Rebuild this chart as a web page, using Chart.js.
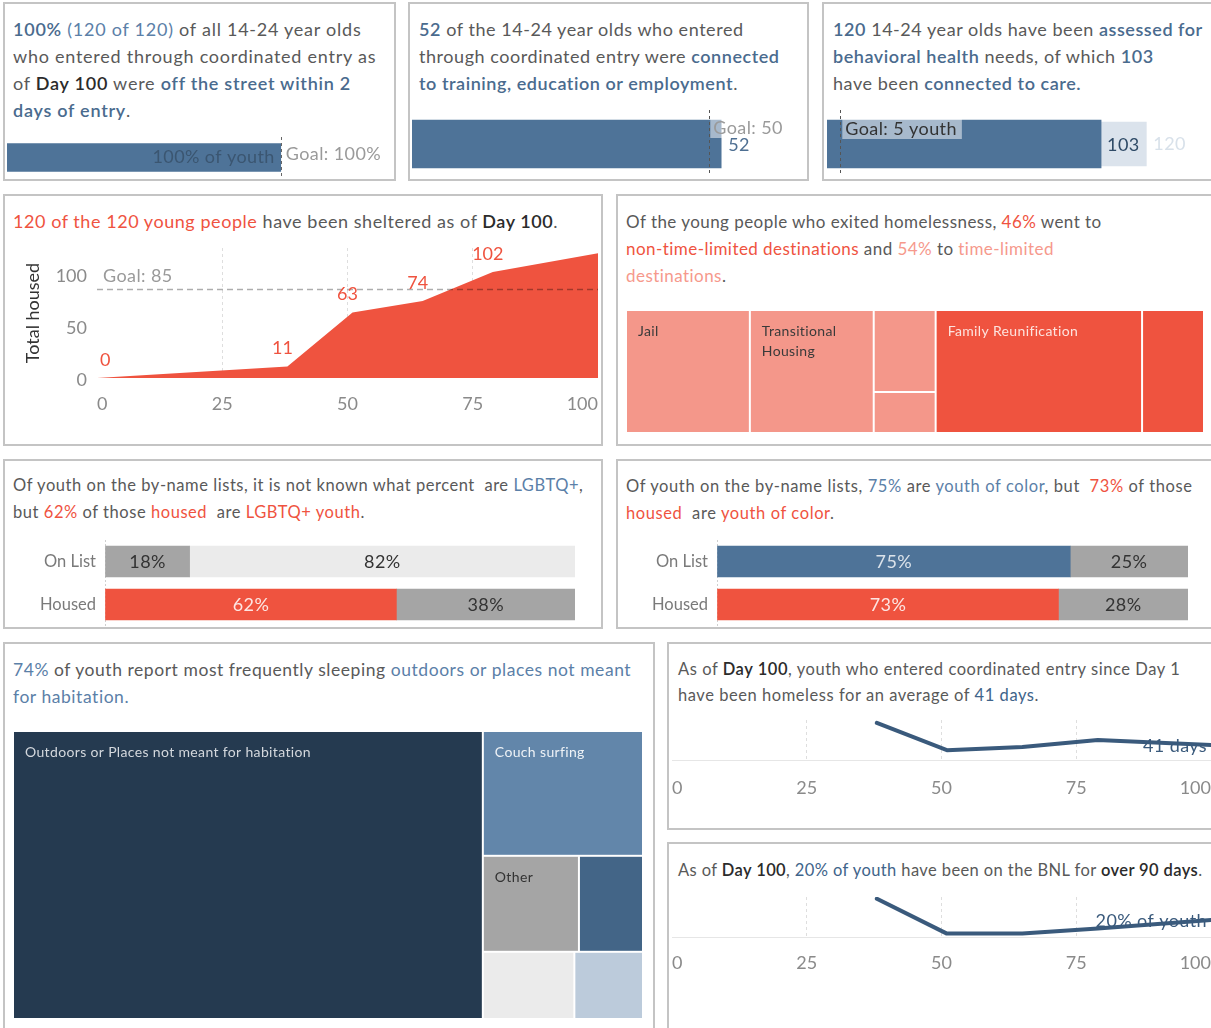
<!DOCTYPE html>
<html>
<head>
<meta charset="utf-8">
<title>Youth homelessness - Day 100</title>
<script src="https://cdn.jsdelivr.net/npm/chart.js@4.4.1/dist/chart.umd.min.js"></script>
<style>
  html, body { margin: 0; padding: 0; }
  body { width: 1211px; height: 1028px; overflow: hidden; position: relative; background: #fff;
         font-family: Lato, "Open Sans", sans-serif; color: #595959; }
  .panel { position: absolute; box-sizing: border-box; border: 2px solid #c4c4c4; }
  .txt { position: absolute; white-space: nowrap; font-size: 18px; line-height: 27px; letter-spacing: 0.55px; }
  canvas { position: absolute; }
  .bs { color: #4a6b8e; font-weight: 600; }
  .bl { color: #5b80a8; }
  .db { color: #40648a; }
  .k  { color: #2b2b2b; font-weight: 600; }
  .r  { color: #ef533f; }
  .lr { color: #f6998c; }
</style>
</head>
<body>

<div class="panel" style="left:3px;top:2px;width:393px;height:179px"></div>
<div class="panel" style="left:408px;top:2px;width:401px;height:179px"></div>
<div class="panel" style="left:822px;top:2px;width:420px;height:179px"></div>
<div class="panel" style="left:3px;top:194px;width:600px;height:252px"></div>
<div class="panel" style="left:616px;top:194px;width:620px;height:252px"></div>
<div class="panel" style="left:3px;top:459px;width:600px;height:170px"></div>
<div class="panel" style="left:616px;top:459px;width:620px;height:170px"></div>
<div class="panel" style="left:3px;top:642px;width:652px;height:420px"></div>
<div class="panel" style="left:667px;top:642px;width:560px;height:188px"></div>
<div class="panel" style="left:667px;top:842px;width:560px;height:220px"></div>

<div class="txt" style="left:13px;top:16px;letter-spacing:0.75px"><span class="bs">100%</span> <span class="bl">(120 of 120)</span> of all 14-24 year olds<br>who entered through coordinated entry as<br>of <span class="k">Day 100</span> were <span class="bs">off the street within 2</span><br><span class="bs">days of entry</span>.</div>

<div class="txt" style="left:419px;top:16px"><span class="bs">52</span> of the 14-24 year olds who entered<br>through coordinated entry were <span class="bs">connected</span><br><span class="bs">to training, education or employment</span>.</div>

<div class="txt" style="left:833px;top:16px"><span class="bs">120</span> 14-24 year olds have been <span class="bs">assessed for</span><br><span class="bs">behavioral health</span> needs, of which <span class="bs">103</span><br>have been <span class="bs">connected to care.</span></div>

<div class="txt" style="left:13px;top:208px"><span class="r">120 of the 120 young people</span> have been sheltered as of <span class="k">Day 100</span>.</div>

<div class="txt" style="left:626px;top:208px;font-size:17px;letter-spacing:0.45px"><span>Of the young people who exited homelessness, </span><span class="r">46%</span> went to<br><span class="r">non-time-limited destinations</span> and <span class="lr">54%</span> to <span class="lr">time-limited</span><br><span class="lr">destinations</span>.</div>

<div class="txt" style="left:13px;top:472px;font-size:16.5px">Of youth on the by-name lists, it is not known what percent&nbsp; are <span class="bl">LGBTQ+</span>,<br>but <span class="r">62%</span> of those <span class="r">housed</span>&nbsp; are <span class="r">LGBTQ+ youth</span>.</div>

<div class="txt" style="left:626px;top:473px;font-size:16.5px;letter-spacing:0.6px">Of youth on the by-name lists, <span class="bl">75%</span> are <span class="bl">youth of color</span>, but&nbsp; <span class="r">73%</span> of those<br><span class="r">housed</span>&nbsp; are <span class="r">youth of color</span>.</div>

<div class="txt" style="left:13px;top:656px;font-size:17.5px"><span class="bl">74%</span> of youth report most frequently sleeping <span class="bl">outdoors or places not meant</span><br><span class="bl">for habitation.</span></div>

<div class="txt" style="left:678px;top:656px;font-size:16.5px;line-height:26px">As of <span class="k">Day 100</span>, youth who entered coordinated entry since Day 1<br>have been homeless for an average of <span class="db">41 days</span>.</div>

<div class="txt" style="left:678px;top:857px;font-size:16.5px;line-height:26px;letter-spacing:0.4px">As of <span class="k">Day 100</span>, <span class="db">20% of youth</span> have been on the BNL for <span class="k">over 90 days</span>.</div>

<canvas id="cA" width="386" height="45" style="left:7px;top:135px"></canvas>
<canvas id="cB" width="396" height="72" style="left:412px;top:108px"></canvas>
<canvas id="cC" width="384" height="72" style="left:827px;top:108px"></canvas>
<canvas id="cD" width="592" height="185" style="left:10px;top:238px"></canvas>
<canvas id="cE" width="578" height="123" style="left:626px;top:310px"></canvas>
<canvas id="cF" width="565" height="86" style="left:10px;top:540px"></canvas>
<canvas id="cG" width="566" height="86" style="left:622px;top:540px"></canvas>
<canvas id="cH" width="630" height="288" style="left:13px;top:731px"></canvas>
<canvas id="cI" width="539" height="95" style="left:672px;top:712px"></canvas>
<canvas id="cJ" width="539" height="95" style="left:672px;top:889px"></canvas>

<script>
// top row KPIs
var pctOffStreet = 100, goalOffStreet = 100;
var connectedTraining = 52, goalTraining = 50;
var assessedBH = 120, connectedCare = 103, goalCare = 5;

// sheltered over time
var shelterDays = [0, 38, 51, 65, 79, 100];
var shelterTotals = [0, 11, 63, 74, 102, 120];
var shelterGoal = 85;

// exit destinations
var exitLabels = ['Jail', 'Transitional Housing', '', '', 'Family Reunification', ''];
var exitCounts = [12, 12, 4, 2, 20, 6];
var exitTimeLimited = [true, true, true, true, false, false];

// by-name list vs housed
var barCats = ['On List', 'Housed'];
var lgbtqYes = [18, 62];
var lgbtqNo = [82, 38];
var pocYes = [75, 72.5];
var pocNo = [25, 27.5];

// where youth sleep
var sleepLabels = ['Outdoors or Places not meant for habitation', 'Couch surfing', 'Other', '', '', ''];
var sleepCounts = [88, 13, 6, 4, 4, 3];

// trends by day
var trendDays = [38, 51, 65, 79, 100];
var avgDaysHomeless = [102, 27, 36, 55, 41];
var pctOver90 = [45, 4, 4, 10, 20];

var BLUE = '#4e7398', RED = '#ef533f', LIGHTRED = '#f4978a', GREY = '#a5a5a5', LIGHTGREY = '#ebebeb', LINE = '#3a5a7c';
var F18 = '18px Lato';

Chart.defaults.font.family = 'Lato, "Open Sans", sans-serif';

function el(id) { return document.getElementById(id); }

function base(extra) {
  var o = { responsive: false, animation: false, events: [],
    plugins: { legend: { display: false }, tooltip: { enabled: false } } };
  for (var k in extra) o[k] = extra[k];
  return o;
}

// tableau keeps edge labels inside, so drop the label overhang padding
function noPad(s) { s.paddingTop = 0; s.paddingBottom = 0; s.paddingLeft = 0; s.paddingRight = 0; }

function txt(ctx, s, x, y, font, color, align, spacing) {
  ctx.save();
  ctx.font = font; ctx.fillStyle = color;
  if (spacing) ctx.letterSpacing = spacing;
  ctx.textAlign = align || 'left'; ctx.textBaseline = 'middle';
  ctx.fillText(s, x, y);
  ctx.restore();
}

function dashV(ctx, x, y1, y2, color) {
  ctx.save();
  ctx.strokeStyle = color; ctx.lineWidth = 1; ctx.setLineDash([3, 3]);
  ctx.beginPath(); ctx.moveTo(Math.round(x) + 0.5, y1); ctx.lineTo(Math.round(x) + 0.5, y2); ctx.stroke();
  ctx.restore();
}

// label box used by tableau for goal text
function boxLabel(ctx, s, x, y, color) {
  ctx.save();
  ctx.font = F18; ctx.letterSpacing = '0.4px';
  var w = ctx.measureText(s).width;
  ctx.fillStyle = 'rgba(255,255,255,0.5)';
  ctx.fillRect(x - 3, y - 10, w + 8, 20);
  ctx.restore();
  txt(ctx, s, x, y, F18, color, 'left', '0.4px');
}

function hbarOpts(max) {
  return base({
    indexAxis: 'y',
    layout: { padding: 0 },
    scales: { x: { display: false, min: 0, max: max }, y: { display: false } }
  });
}

// ---- A: off the street
new Chart(el('cA'), {
  type: 'bar',
  data: { labels: [''], datasets: [{ data: [pctOffStreet], backgroundColor: BLUE, barThickness: 28 }] },
  options: hbarOpts(141),
  plugins: [{ id: 'lblA', afterDatasetsDraw: function (chart) {
    var ctx = chart.ctx, xs = chart.scales.x, bar = chart.getDatasetMeta(0).data[0], a = chart.chartArea;
    var gx = xs.getPixelForValue(goalOffStreet);
    txt(ctx, pctOffStreet + '% of youth', xs.getPixelForValue(pctOffStreet) - 6, bar.y, F18, '#3b5671', 'right', '0.4px');
    dashV(ctx, gx, a.top + 2, a.bottom - 2, '#666');
    txt(ctx, 'Goal: ' + goalOffStreet + '%', gx + 5, bar.y - 3, F18, '#9a9a9a', 'left', '0.4px');
  } }]
});

// ---- B: training / education
new Chart(el('cB'), {
  type: 'bar',
  data: { labels: [''], datasets: [{ data: [connectedTraining], backgroundColor: BLUE, barThickness: 48 }] },
  options: hbarOpts(66.6),
  plugins: [{ id: 'lblB', afterDatasetsDraw: function (chart) {
    var ctx = chart.ctx, xs = chart.scales.x, bar = chart.getDatasetMeta(0).data[0], a = chart.chartArea;
    var gx = xs.getPixelForValue(goalTraining);
    var top = bar.y - bar.height / 2;
    dashV(ctx, gx, a.top + 2, a.bottom - 4, '#555');
    boxLabel(ctx, 'Goal: ' + goalTraining, gx + 4, top + 8, '#9a9a9a');
    txt(ctx, String(connectedTraining), xs.getPixelForValue(connectedTraining) + 7, bar.y + 1, F18, '#4e6f92', 'left', '0.4px');
  } }]
});

// ---- C: behavioral health
new Chart(el('cC'), {
  type: 'bar',
  data: { labels: [''], datasets: [
    { data: [connectedCare], backgroundColor: BLUE, barThickness: 48, grouped: false },
    { data: [assessedBH], backgroundColor: '#dbe3ec', barThickness: 44, grouped: false }
  ] },
  options: hbarOpts(144.3),
  plugins: [{ id: 'lblC', afterDatasetsDraw: function (chart) {
    var ctx = chart.ctx, xs = chart.scales.x, bar = chart.getDatasetMeta(0).data[0], a = chart.chartArea;
    var gx = xs.getPixelForValue(goalCare);
    var top = bar.y - bar.height / 2;
    dashV(ctx, gx, a.top + 2, a.bottom - 4, '#555');
    boxLabel(ctx, 'Goal: ' + goalCare + ' youth', gx + 5, top + 9, '#333');
    txt(ctx, String(connectedCare), xs.getPixelForValue(connectedCare) + 6, bar.y + 1, F18, '#2e4a66', 'left', '0.4px');
    txt(ctx, String(assessedBH), xs.getPixelForValue(assessedBH) + 7, bar.y, F18, '#d8e1ea', 'left', '0.4px');
  } }]
});

// ---- D: sheltered area chart
function innerGrid(c) {
  return (c.tick && c.tick.value > 0 && c.tick.value < 100) ? '#dedede' : 'rgba(0,0,0,0)';
}

new Chart(el('cD'), {
  type: 'line',
  data: { datasets: [{
    data: shelterDays.map(function (d, i) { return { x: d, y: shelterTotals[i] }; }),
    fill: 'origin', backgroundColor: RED, borderWidth: 0, pointRadius: 0, tension: 0
  }] },
  options: base({
    layout: { padding: { top: 10, right: 4, left: 0, bottom: 0 } },
    scales: {
      x: { type: 'linear', min: 0, max: 100,
        ticks: { stepSize: 25, align: 'inner', color: '#8a8a8a', font: { size: 18 }, padding: 15 },
        grid: { drawTicks: false, color: innerGrid },
        border: { display: false, dash: [3, 3] },
        afterFit: function (s) { s.height = 45; noPad(s); } },
      y: { min: 0, max: 125,
        ticks: { stepSize: 50, color: '#8a8a8a', font: { size: 18 }, padding: 10, labelOffset: 2 },
        afterBuildTicks: function (s) { s.ticks = s.ticks.filter(function (t) { return t.value % 50 === 0; }); },
        grid: { display: false, drawTicks: false }, border: { display: false },
        title: { display: true, text: 'Total housed', color: '#333', font: { size: 18 }, padding: { top: 12, bottom: 0 } },
        afterFit: function (s) { s.width = 87; noPad(s); } }
    }
  }),
  plugins: [{ id: 'goalD', afterDatasetsDraw: function (chart) {
    var ctx = chart.ctx, a = chart.chartArea, xs = chart.scales.x, ys = chart.scales.y;
    var gy = ys.getPixelForValue(shelterGoal);
    ctx.save();
    ctx.strokeStyle = 'rgba(0,0,0,0.32)'; ctx.lineWidth = 1.5; ctx.setLineDash([6, 4]);
    ctx.beginPath(); ctx.moveTo(a.left, gy); ctx.lineTo(a.right, gy); ctx.stroke();
    ctx.restore();
    txt(ctx, 'Goal: ' + shelterGoal, a.left + 6, gy - 13, F18, '#9a9a9a', 'left', '0.4px');
    for (var i = 0; i < shelterDays.length - 1; i++) {
      var px = xs.getPixelForValue(shelterDays[i]), py = ys.getPixelForValue(shelterTotals[i]);
      if (i === 0) txt(ctx, String(shelterTotals[i]), px + 3, py - 18, F18, RED, 'left');
      else txt(ctx, String(shelterTotals[i]), px - 5, py - 18, F18, RED, 'center');
    }
  } }]
});

// ---- treemaps
function worst(row, side) {
  var s = 0, mx = 0, mn = Infinity;
  row.forEach(function (a) { s += a; mx = Math.max(mx, a); mn = Math.min(mn, a); });
  return Math.max(side * side * mx / (s * s), (s * s) / (side * side * mn));
}

function squarify(values, x, y, w, h) {
  var total = values.reduce(function (a, b) { return a + b; }, 0);
  var areas = values.map(function (v) { return v * w * h / total; });
  var out = [], i = 0;
  while (i < areas.length) {
    var side = Math.min(w, h), row = [areas[i]], j = i + 1;
    while (j < areas.length && worst(row.concat([areas[j]]), side) <= worst(row, side)) { row.push(areas[j]); j++; }
    var sum = row.reduce(function (a, b) { return a + b; }, 0);
    if (w >= h) {
      var cw = sum / h, cy = y;
      row.forEach(function (a) { out.push({ x: x, y: cy, w: cw, h: a / cw }); cy += a / cw; });
      x += cw; w -= cw;
    } else {
      var rh = sum / w, cx = x;
      row.forEach(function (a) { out.push({ x: cx, y: y, w: a / rh, h: rh }); cx += a / rh; });
      y += rh; h -= rh;
    }
    i = j;
  }
  return out;
}

var TM_FONT = '14px Lato', TM_SPACING = '0.35px';

function wrapLines(ctx, s, maxW) {
  var words = s.split(' '), lines = [], cur = '';
  words.forEach(function (wd) {
    var t = cur ? cur + ' ' + wd : wd;
    if (cur && ctx.measureText(t).width > maxW) { lines.push(cur); cur = wd; } else cur = t;
  });
  if (cur) lines.push(cur);
  return lines;
}

function treemapChart(id, getCells) {
  return new Chart(el(id), {
    type: 'scatter',
    data: { datasets: [{ data: [] }] },
    options: base({
      layout: { padding: 0 },
      scales: { x: { type: 'linear', display: false, min: 0, max: 1 },
                y: { type: 'linear', display: false, min: 0, max: 1, reverse: true } }
    }),
    plugins: [{ id: 'treemap', afterDatasetsDraw: function (chart) {
      var a = chart.chartArea, xs = chart.scales.x, ys = chart.scales.y, ctx = chart.ctx;
      var W = a.right - a.left, H = a.bottom - a.top;
      getCells(W, H).forEach(function (c) {
        var x1 = xs.getPixelForValue(c.x / W), x2 = xs.getPixelForValue((c.x + c.w) / W);
        var y1 = ys.getPixelForValue(c.y / H), y2 = ys.getPixelForValue((c.y + c.h) / H);
        ctx.fillStyle = c.color;
        ctx.fillRect(x1 + 1, y1 + 1, x2 - x1 - 2, y2 - y1 - 2);
        if (c.label) {
          ctx.save();
          ctx.font = TM_FONT; ctx.letterSpacing = TM_SPACING;
          var lines = wrapLines(ctx, c.label, x2 - x1 - 24);
          ctx.restore();
          lines.forEach(function (ln, k) { txt(ctx, ln, x1 + 12, y1 + 21.5 + k * 20, TM_FONT, c.text, 'left', TM_SPACING); });
        }
      });
    } }]
  });
}

// E: exits, grouped by time-limited vs not
treemapChart('cE', function (W, H) {
  var groups = [[], []];
  exitCounts.forEach(function (v, i) { groups[exitTimeLimited[i] ? 0 : 1].push(i); });
  var sums = groups.map(function (g) { return g.reduce(function (s, i) { return s + exitCounts[i]; }, 0); });
  var outer = squarify(sums, 0, 0, W, H), cells = [];
  outer.forEach(function (r, g) {
    var idx = groups[g];
    squarify(idx.map(function (i) { return exitCounts[i]; }), r.x, r.y, r.w, r.h).forEach(function (c, k) {
      var i = idx[k];
      c.color = exitTimeLimited[i] ? LIGHTRED : RED;
      c.text = exitTimeLimited[i] ? '#3a3a3a' : '#fde3de';
      c.label = exitLabels[i];
      cells.push(c);
    });
  });
  return cells;
});

// H: sleeping locations
var sleepColors = ['#253a50', '#6286aa', GREY, '#436587', LIGHTGREY, '#bccbdb'];
var sleepText = ['#d4d8dd', '#eef2f6', '#333', '#fff', '#333', '#333'];
treemapChart('cH', function (W, H) {
  return squarify(sleepCounts, 0, 0, W, H).map(function (c, i) {
    c.color = sleepColors[i]; c.text = sleepText[i]; c.label = sleepLabels[i];
    return c;
  });
});

// ---- F, G: stacked percentage bars
function pctBars(id, yes, no, yesColors, noColors, yesText, noText) {
  return new Chart(el(id), {
    type: 'bar',
    data: { labels: barCats, datasets: [
      { data: yes, backgroundColor: yesColors, barThickness: 31 },
      { data: no, backgroundColor: noColors, barThickness: 31 }
    ] },
    options: base({
      indexAxis: 'y',
      layout: { padding: 0 },
      scales: {
        x: { stacked: true, min: 0, max: 100,
          ticks: { display: false },
          grid: { drawTicks: false, color: function (c) { return c.tick && c.tick.value === 0 ? '#cfcfcf' : 'rgba(0,0,0,0)'; } },
          border: { display: false, dash: [2, 2] },
          afterFit: function (s) { s.height = 0; noPad(s); } },
        y: { stacked: true,
          ticks: { color: '#7a7a7a', font: { size: 16.5 }, padding: 9 },
          grid: { display: false, drawTicks: false }, border: { display: false },
          afterFit: function (s) { s.width = 95; noPad(s); } }
      }
    }),
    plugins: [{ id: 'pctLabels', afterDatasetsDraw: function (chart) {
      var ctx = chart.ctx;
      [0, 1].forEach(function (d) {
        chart.getDatasetMeta(d).data.forEach(function (bar, i) {
          var v = chart.data.datasets[d].data[i];
          var col = d === 0 ? yesText[i] : noText[i];
          txt(ctx, Math.round(v) + '%', (bar.x + bar.base) / 2, bar.y + 1, F18, col, 'center', '0.4px');
        });
      });
    } }]
  });
}

pctBars('cF', lgbtqYes, lgbtqNo, [GREY, RED], [LIGHTGREY, GREY],
  ['#333', 'rgba(255,255,255,0.85)'], ['#333', '#333']);
pctBars('cG', pocYes, pocNo, [BLUE, RED], [GREY, GREY],
  ['rgba(255,255,255,0.8)', 'rgba(255,255,255,0.85)'], ['#333', '#333']);

// ---- I, J: trend lines
function trendChart(id, values, yMax, label, pad) {
  return new Chart(el(id), {
    type: 'line',
    data: { datasets: [{
      data: trendDays.map(function (d, i) { return { x: d, y: values[i] }; }),
      borderColor: LINE, borderWidth: 4, pointRadius: 0, tension: 0, fill: false,
      borderCapStyle: 'round', borderJoinStyle: 'round'
    }] },
    options: base({
      layout: { padding: { top: 8, left: 0, right: 0, bottom: 0 } },
      scales: {
        x: { type: 'linear', min: 0, max: 100,
          ticks: { stepSize: 25, align: 'inner', color: '#8a8a8a', font: { size: 18 }, padding: pad },
          grid: { drawTicks: false, color: innerGrid },
          border: { display: true, color: '#e6e6e6', width: 1, dash: [3, 3] },
          afterFit: function (s) { s.height = 47; noPad(s); } },
        y: { display: false, min: 0, max: yMax }
      }
    }),
    plugins: [{ id: 'endLabel', afterDatasetsDraw: function (chart) {
      var pts = chart.getDatasetMeta(0).data, p = pts[pts.length - 1];
      txt(chart.ctx, label, p.x - 4, p.y + 1, F18, LINE, 'right', '0.4px');
    } }]
  });
}

trendChart('cI', avgDaysHomeless, 110, avgDaysHomeless[avgDaysHomeless.length - 1] + ' days', 17);
trendChart('cJ', pctOver90, 47, pctOver90[pctOver90.length - 1] + '% of youth', 15);
</script>
</body>
</html>
